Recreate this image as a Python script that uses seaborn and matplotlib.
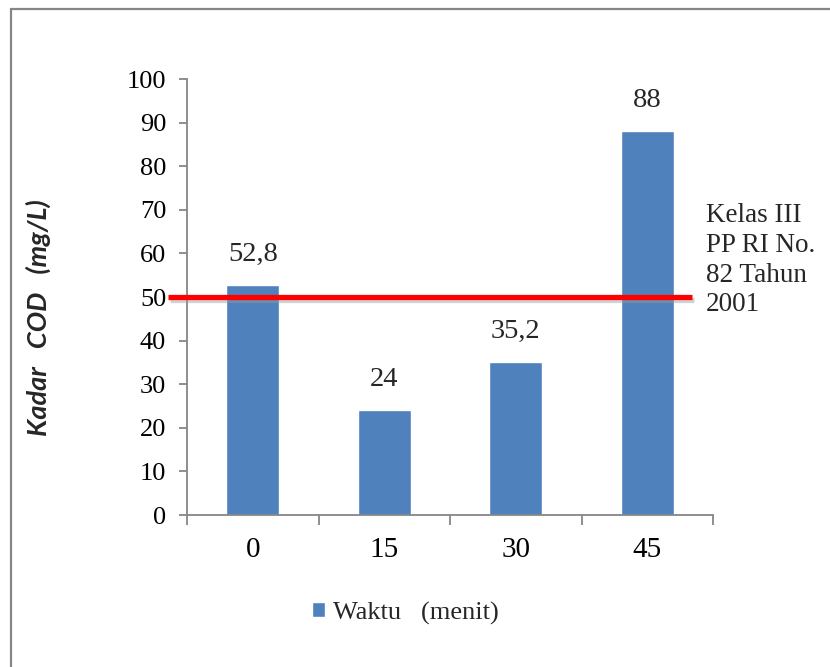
import matplotlib
matplotlib.use("Agg")
import matplotlib.pyplot as plt
import matplotlib.patheffects as pe
from matplotlib.patches import Rectangle
from matplotlib.ticker import FixedLocator
import pandas as pd
import seaborn as sns

# COD concentration per sampling time
waktu = ["0", "15", "30", "45"]
kadar_cod = [52.8, 24, 35.2, 88]
value_labels = ["52,8", "24", "35,2", "88"]
baku_mutu = 50  # Kelas III, PP RI No. 82 Tahun 2001
y_ticks = [0, 10, 20, 30, 40, 50, 60, 70, 80, 90, 100]

sns.set_theme(style="white")
plt.rcParams["font.family"] = ["Liberation Serif", "DejaVu Serif"]

df = pd.DataFrame({"Waktu": waktu, "Kadar": kadar_cod})

fig = plt.figure(figsize=(8.3, 6.67), dpi=100)
ax = fig.add_axes([187 / 830, 1 - 515 / 667, (713 - 187) / 830, (515 - 79) / 667])

bar_color = "#4F81BD"
sns.barplot(data=df, x="Waktu", y="Kadar", color=bar_color, width=0.4,
            saturation=1, label="Waktu   (menit)", ax=ax, zorder=2)

ax.set_xlim(-0.5, 3.5)
ax.set_ylim(0, 100)
ax.set_yticks(y_ticks)
ax.set_yticklabels([str(v) for v in y_ticks], fontsize=19)
ax.set_xticks(range(len(waktu)))
ax.set_xticklabels(waktu, fontsize=21)
ax.xaxis.set_minor_locator(FixedLocator([i - 0.5 for i in range(len(waktu) + 1)]))

axis_grey = "#868686"
for side in ["top", "right"]:
    ax.spines[side].set_visible(False)
for side in ["left", "bottom"]:
    ax.spines[side].set_color(axis_grey)
    ax.spines[side].set_linewidth(1.3)
ax.tick_params(axis="y", which="major", left=True, length=6, width=1.3,
               color=axis_grey, pad=9, labelcolor="black")
ax.tick_params(axis="x", which="major", bottom=False, length=0, pad=16,
               labelcolor="black")
ax.tick_params(axis="x", which="minor", bottom=True, length=7, width=1.3,
               color=axis_grey)
ax.grid(False)

ax.set_xlabel("")
ax.set_ylabel("")
fig.text(38 / 830, 1 - 318 / 667, "Kadar   COD   (mg/L)", rotation=90,
         ha="center", va="center", fontsize=19.5, fontweight="bold",
         fontstyle="italic", family=["Lato", "DejaVu Sans"])

# value labels above the bars
for i, (v, lab) in enumerate(zip(kadar_cod, value_labels)):
    ax.annotate(lab, (i, v), xytext=(0, 13), textcoords="offset points",
                ha="center", va="bottom", fontsize=20.5)

# quality-standard line, running past the plot area on both sides
ax.plot([-0.646, 3.34], [baku_mutu, baku_mutu], color="#FF0000",
        linewidth=3.8, solid_capstyle="butt", clip_on=False, zorder=4,
        path_effects=[pe.SimpleLineShadow(offset=(1.5, -2.5), shadow_color="#9a9a9a",
                                          alpha=0.45), pe.Normal()])

fig.text(706 / 830, 1 - 203 / 667, "Kelas III\nPP RI No.\n82 Tahun\n2001",
         ha="left", va="top", fontsize=19.5, linespacing=1.25)

leg = ax.legend(loc="center", bbox_to_anchor=(405 / 830, 1 - 613 / 667),
                bbox_transform=fig.transFigure, frameon=False, fontsize=19,
                handlelength=0.5, handleheight=0.5, handletextpad=0.3)

# chart-area border
fig.patches.append(Rectangle((11 / 830, -0.2), 1.2, 0.2 + 1 - 9 / 667,
                             transform=fig.transFigure, fill=False,
                             edgecolor=axis_grey, linewidth=1.6))

fig.savefig("out.png", dpi=100)
